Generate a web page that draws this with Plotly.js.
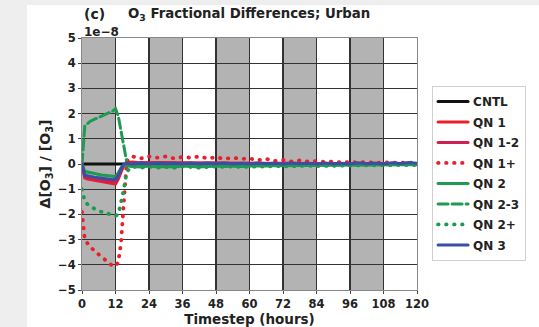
<!DOCTYPE html>
<html>
<head>
<meta charset="utf-8">
<script src="https://cdn.plot.ly/plotly-3.0.1.min.js"></script>
<style>
  html, body { margin: 0; padding: 0; background: #eeeeee; width: 539px; height: 327px; overflow: hidden; }
  #chart { position: absolute; left: 27px; top: 5px; width: 512px; height: 322px; }
  path.js-line { stroke-linecap: round; }
</style>
</head>
<body>
<div id="chart"></div>
<script>
// Timesteps (hours) and series values, in units of 1e-8
const hours = [0,1,2,3,4,5,6,7,8,9,10,11,12,13,14,15,16,
  18,21,24,27,30,33,36,39,42,45,48,51,54,57,60,63,66,69,72,75,78,81,84,87,90,93,96,99,102,105,108,111,114,117,120];

const cntl  = [0,0,0,0,0,0,0,0,0,0,0,0,0,0,0,0,0,
  0,0,0,0,0,0,0,0,0,0,0,0,0,0,0,0,0,0,0,0,0,0,0,0,0,0,0,0,0,0,0,0,0,0,0];

const qn1   = [0,-0.55,-0.6,-0.62,-0.65,-0.67,-0.7,-0.72,-0.74,-0.76,-0.78,-0.8,-0.8,-0.6,-0.3,-0.05,0.05,
  0.08,0.05,0.06,0.04,0.06,0.05,0.04,0.05,0.04,0.05,0.03,0.04,0.03,0.04,0.03,0.03,0.02,0.03,0.02,0.03,0.02,0.02,0.02,0.03,0.02,0.02,0.02,0.02,0.01,0.02,0.01,0.02,0.01,0.02,0.01];

const qn1_2 = [0,-0.5,-0.52,-0.55,-0.57,-0.6,-0.62,-0.64,-0.66,-0.68,-0.7,-0.7,-0.72,-0.55,-0.25,-0.05,0.04,
  0.06,0.04,0.05,0.04,0.05,0.04,0.04,0.04,0.03,0.04,0.03,0.03,0.03,0.03,0.02,0.03,0.02,0.02,0.02,0.02,0.02,0.02,0.02,0.02,0.02,0.02,0.01,0.02,0.01,0.01,0.01,0.01,0.01,0.01,0.01];

const qn1p  = [-1.9,-3.0,-3.15,-3.3,-3.4,-3.5,-3.6,-3.7,-3.8,-3.9,-4.0,-4.05,-4.05,-3.9,-3.1,-1.6,0.1,
  0.3,0.22,0.3,0.25,0.3,0.22,0.28,0.25,0.3,0.22,0.27,0.2,0.25,0.2,0.22,0.15,0.2,0.12,0.16,0.1,0.14,0.1,0.12,0.08,0.1,0.06,0.08,0.06,0.08,0.05,0.06,0.05,0.06,0.04,0.05];

const qn2   = [0,-0.3,-0.32,-0.35,-0.37,-0.4,-0.42,-0.44,-0.45,-0.47,-0.48,-0.5,-0.5,-0.35,-0.15,-0.05,-0.08,
  -0.1,-0.12,-0.08,-0.12,-0.1,-0.12,-0.08,-0.1,-0.12,-0.1,-0.08,-0.1,-0.08,-0.1,-0.08,-0.07,-0.08,-0.06,-0.07,-0.06,-0.06,-0.05,-0.06,-0.05,-0.05,-0.04,-0.05,-0.04,-0.04,-0.04,-0.03,-0.04,-0.03,-0.03,-0.03];

const qn2_3 = [0,1.5,1.6,1.7,1.75,1.8,1.85,1.9,1.95,2.0,2.05,2.1,2.2,1.9,1.3,0.7,0.1,
  -0.05,-0.1,-0.05,-0.1,-0.08,-0.1,-0.05,-0.08,-0.1,-0.08,-0.05,-0.08,-0.06,-0.08,-0.05,-0.06,-0.05,-0.05,-0.04,-0.05,-0.04,-0.04,-0.03,-0.04,-0.03,-0.03,-0.03,-0.03,-0.02,-0.03,-0.02,-0.02,-0.02,-0.02,-0.02];

const qn2p  = [-1.0,-1.5,-1.6,-1.7,-1.75,-1.8,-1.85,-1.9,-1.95,-1.95,-2.0,-2.0,-2.05,-2.0,-1.5,-1.0,-0.3,
  -0.1,-0.15,-0.1,-0.15,-0.12,-0.15,-0.1,-0.12,-0.15,-0.12,-0.1,-0.12,-0.1,-0.12,-0.1,-0.1,-0.1,-0.08,-0.1,-0.08,-0.08,-0.07,-0.08,-0.07,-0.06,-0.06,-0.06,-0.05,-0.05,-0.05,-0.04,-0.05,-0.04,-0.04,-0.04];

const qn3   = [0,-0.45,-0.47,-0.5,-0.52,-0.54,-0.55,-0.57,-0.58,-0.6,-0.6,-0.62,-0.62,-0.45,-0.2,0.0,0.02,
  0.0,0.03,0.0,0.04,0.01,0.03,0.0,0.04,0.0,0.03,0.01,0.04,0.0,0.03,0.0,0.04,0.01,0.03,0.0,0.04,0.01,0.03,0.0,0.04,0.01,0.03,0.0,0.05,0.01,0.04,0.0,0.05,0.02,0.06,0.03];

const seriesNames = ["CNTL","QN 1","QN 1-2","QN 1+","QN 2","QN 2-3","QN 2+","QN 3"];
const yTicks = [5,4,3,2,1,0,-1,-2,-3,-4,-5];
const xTicks = [0,12,24,36,48,60,72,84,96,108,120];
const nightStarts = [0,24,48,72,96];
const nightLength = 12;

const RED = "#e8202c", CRIMSON = "#cf1f4f", GREEN = "#1f9a52", BLUE = "#3a4ea6";
const DOTS = "0.5px,7.5px";
const styles = [
  {color:"#111111", dash:"solid", width:3},
  {color:RED, dash:"solid", width:3},
  {color:CRIMSON, dash:"solid", width:3},
  {color:RED, dash:DOTS, width:3.8},
  {color:GREEN, dash:"solid", width:3},
  {color:GREEN, dash:"10px,4px", width:3},
  {color:GREEN, dash:DOTS, width:3.8},
  {color:BLUE, dash:"solid", width:3}
];
const data = [cntl, qn1, qn1_2, qn1p, qn2, qn2_3, qn2p, qn3];
const drawOrder = [0,3,6,5,1,2,4,7];

const traces = drawOrder.map(i => ({
  x: hours, y: data[i], type: "scatter", mode: "lines", name: seriesNames[i],
  legendrank: i + 1, legendgroup: "g" + i,
  line: {color: styles[i].color, dash: styles[i].dash, width: styles[i].width}
}));

const shapes = nightStarts.map(s => ({
  type: "rect", xref: "x", yref: "paper", x0: s, x1: s + nightLength, y0: 0, y1: 1,
  fillcolor: "#b3b3b3", line: {width: 0}, layer: "below"
}));

const font = {family: "DejaVu Sans, sans-serif", color: "#222222", weight: "bold"};
const f = s => Object.assign({size: s}, font);

const layout = {
  width: 512, height: 322,
  margin: {l: 55, r: 122, t: 33, b: 37},
  paper_bgcolor: "#ffffff", plot_bgcolor: "#ffffff",
  font: f(11),
  showlegend: true,
  legend: {x: 1.045, y: 0.81, xanchor: "left", yanchor: "top",
    bgcolor: "#ffffff", bordercolor: "#d0d0d0", borderwidth: 1,
    font: f(12), tracegroupgap: 1.5},
  xaxis: {range: [0, 120], tickvals: xTicks, ticktext: xTicks.map(String),
    showgrid: true, gridcolor: "#333333", gridwidth: 1.2, zeroline: false,
    showline: true, mirror: true, linecolor: "#888888", linewidth: 1,
    ticks: "outside", ticklen: 3, tickcolor: "#444444",
    tickfont: f(11.5),
    title: {text: "Timestep (hours)", font: f(13.5), standoff: 1}},
  yaxis: {range: [-5, 5], tickvals: yTicks, ticktext: yTicks.map(v => v < 0 ? "\u2212" + (-v) : String(v)),
    showgrid: true, gridcolor: "#333333", gridwidth: 1.2, zeroline: false,
    showline: true, mirror: true, linecolor: "#888888", linewidth: 1,
    ticks: "outside", ticklen: 3, tickcolor: "#444444",
    tickfont: f(11.5),
    title: {text: "\u0394[O<sub>3</sub>] / [O<sub>3</sub>]", font: f(14), standoff: 4}},
  shapes: shapes,
  annotations: [
    {text: "(c)", xref: "paper", yref: "paper", x: 0, y: 1, xanchor: "left", yanchor: "bottom",
      yshift: 14, showarrow: false, font: f(14)},
    {text: "O<sub>3</sub> Fractional Differences; Urban", xref: "paper", yref: "paper", x: 0.13, y: 1,
      xanchor: "left", yanchor: "bottom", yshift: 13, showarrow: false, font: f(13.3)},
    {text: "1e\u22128", xref: "paper", yref: "paper", x: 0, y: 1, xanchor: "left", yanchor: "bottom",
      yshift: -3, showarrow: false, font: f(12)}
  ]
};

Plotly.newPlot("chart", traces, layout, {displayModeBar: false, staticPlot: true});
</script>
</body>
</html>
